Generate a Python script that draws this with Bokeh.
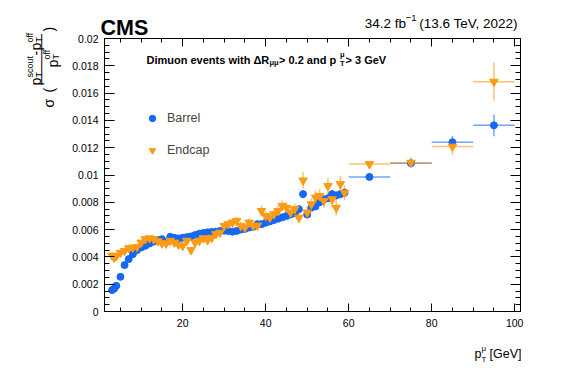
import math
from bokeh.plotting import figure
from bokeh.models import (ColumnDataSource, Range1d, LinearAxis, FixedTicker, Label,
                          Legend, LegendItem, CustomJSTickFormatter)
from bokeh.embed import file_html
from bokeh.resources import INLINE

# ---------------- data ----------------
pt_center = [3.0, 3.5, 4.0, 5, 6, 7, 8, 9, 10, 11, 12, 13, 14, 15, 16, 17, 18, 19, 20,
             21, 22, 23, 24, 25, 26, 27, 28, 29, 30, 31, 32, 33, 34, 35, 36, 37, 38, 39, 40,
             41, 42, 43, 44, 45, 46, 47, 48, 49, 50, 51, 52, 53, 54, 55, 56, 57, 58, 59,
             65, 75, 85, 95]
pt_halfwidth = [0.25, 0.25, 0.25] + [0.5] * 55 + [5, 5, 5, 5]

barrel_sigma = [0.00157, 0.00168, 0.00188, 0.00254, 0.00340, 0.00384, 0.00420, 0.00450,
                0.00469, 0.00481, 0.00498, 0.00512, 0.00523, 0.00530, 0.00510, 0.00547,
                0.00540, 0.00535, 0.00540, 0.00545, 0.00550, 0.00560, 0.00570, 0.00575,
                0.00580, 0.00583, 0.00585, 0.00590, 0.00592, 0.00590, 0.00585, 0.00590,
                0.00600, 0.00605, 0.00615, 0.00620, 0.00640, 0.00640, 0.00650, 0.00660,
                0.00670, 0.00680, 0.00690, 0.00700, 0.00710, 0.00720, 0.00750, 0.00860,
                0.00710, 0.00760, 0.00770, 0.00800, 0.00820, 0.00830, 0.00860, 0.00850,
                0.00860, 0.00870,
                0.00986, 0.01086, 0.01240, 0.01364]
barrel_err = [0.00010, 0.00010, 0.00010, 0.00010, 0.00010, 0.00010, 0.00010, 0.00010,
              0.00010, 0.00010, 0.00010, 0.00010, 0.00010, 0.00010, 0.00010, 0.00010,
              0.00010, 0.00010, 0.00010, 0.00010, 0.00010, 0.00010, 0.00010, 0.00010,
              0.00010, 0.00010, 0.00010, 0.00010, 0.00010, 0.00010, 0.00010, 0.00010,
              0.00010, 0.00010, 0.00010, 0.00010, 0.00012, 0.00012, 0.00012, 0.00012,
              0.00012, 0.00012, 0.00015, 0.00015, 0.00015, 0.00015, 0.00020, 0.00030,
              0.00020, 0.00020, 0.00020, 0.00020, 0.00025, 0.00025, 0.00030, 0.00030,
              0.00030, 0.00030,
              0.00010, 0.00020, 0.00045, 0.00080]

endcap_sigma = [0.00410, 0.00395, 0.00405, 0.00430, 0.00444, 0.00464, 0.00469, 0.00474,
                0.00505, 0.00530, 0.00537, 0.00530, 0.00515, 0.00500, 0.00498, 0.00518,
                0.00505, 0.00490, 0.00481, 0.00518, 0.00450, 0.00505, 0.00518, 0.00537,
                0.00523, 0.00540, 0.00567, 0.00578, 0.00627, 0.00640, 0.00652, 0.00664,
                0.00627, 0.00615, 0.00652, 0.00627, 0.00630, 0.00737, 0.00700, 0.00688,
                0.00713, 0.00737, 0.00774, 0.00760, 0.00725, 0.00750, 0.00688, 0.00960,
                0.00725, 0.00786, 0.00835, 0.00847, 0.00810, 0.00920, 0.00823, 0.00760,
                0.00933, 0.00870,
                0.01080, 0.01090, 0.01208, 0.01684]
endcap_err = [0.00020, 0.00020, 0.00020, 0.00020, 0.00020, 0.00020, 0.00020, 0.00020,
              0.00020, 0.00020, 0.00020, 0.00020, 0.00020, 0.00020, 0.00020, 0.00020,
              0.00020, 0.00020, 0.00025, 0.00025, 0.00025, 0.00025, 0.00025, 0.00025,
              0.00025, 0.00025, 0.00030, 0.00030, 0.00030, 0.00030, 0.00030, 0.00030,
              0.00030, 0.00030, 0.00030, 0.00030, 0.00030, 0.00040, 0.00035, 0.00035,
              0.00035, 0.00040, 0.00040, 0.00040, 0.00040, 0.00040, 0.00040, 0.00060,
              0.00045, 0.00045, 0.00050, 0.00050, 0.00050, 0.00060, 0.00050, 0.00055,
              0.00060, 0.00055,
              0.00020, 0.00040, 0.00060, 0.00140]

x_major_ticks = [20, 40, 60, 80, 100]
x_minor_ticks = [5, 10, 15, 20, 25, 30, 35, 40, 45, 50, 55, 60, 65, 70, 75, 80, 85, 90, 95, 100]
y_major_ticks = [0.0, 0.002, 0.004, 0.006, 0.008, 0.01, 0.012, 0.014, 0.016, 0.018, 0.02]
y_tick_labels = ["0", "0.002", "0.004", "0.006", "0.008", "0.01", "0.012", "0.014",
                 "0.016", "0.018", "0.02"]
y_minor_ticks = [i * 0.0005 for i in range(41)]

BLUE = "#1668f2"
ORANGE = "#fb9b16"
FONT = "Liberation Sans"

# ---------------- geometry ----------------
W, H = 573, 367
X0, X1 = 1.16, 101.4          # visible x range of the plot box
Y0, Y1 = 0.0, 0.02            # visible y range of the plot box
VL, VR, VT, VB = 104, 520, 38, 311   # plot box on the canvas (px)
kx = (X1 - X0) / (VR - VL)
ky = (Y1 - Y0) / (VB - VT)


def fx(px):
    return X0 + (px - VL) * kx


def fy(py):
    return Y0 + (VB - py) * ky


p = figure(width=W, height=H,
           x_range=Range1d(fx(0), fx(W)), y_range=Range1d(fy(H), fy(0)),
           output_backend="svg", toolbar_location=None,
           min_border=0, min_border_left=0, min_border_right=0,
           min_border_top=0, min_border_bottom=0)
p.grid.visible = False
p.outline_line_color = None
p.background_fill_color = "white"
p.border_fill_color = "white"


def style_axis(ax, ticks, minor, major_len, minor_len, show_labels, loc, bounds):
    ax.ticker = FixedTicker(ticks=ticks, minor_ticks=minor)
    ax.fixed_location = loc
    ax.bounds = bounds
    ax.axis_line_color = "black"
    ax.major_tick_line_color = "black"
    ax.minor_tick_line_color = "black"
    ax.major_tick_in = major_len
    ax.major_tick_out = 0
    ax.minor_tick_in = minor_len
    ax.minor_tick_out = 0
    ax.major_label_text_font = FONT
    ax.major_label_text_font_size = "10.5px"
    ax.major_label_text_color = "black"
    if not show_labels:
        ax.formatter = CustomJSTickFormatter(code="return ''")


style_axis(p.xaxis[0], x_major_ticks, x_minor_ticks, 8, 4, True, Y0, (X0, X1))
p.xaxis[0].major_label_standoff = 7
style_axis(p.yaxis[0], y_major_ticks, y_minor_ticks, 10, 5, True, X0, (Y0, Y1))
p.yaxis[0].major_label_overrides = {t: l for t, l in zip(y_major_ticks, y_tick_labels)}
p.yaxis[0].major_label_standoff = 6

top_ax = LinearAxis()
style_axis(top_ax, x_major_ticks, x_minor_ticks, 8, 4, False, Y1, (X0, X1))
p.add_layout(top_ax, "above")
right_ax = LinearAxis()
style_axis(right_ax, y_major_ticks, y_minor_ticks, 10, 5, False, X1, (Y0, Y1))
p.add_layout(right_ax, "right")


def make_source(x, xe, y, ye):
    return ColumnDataSource(dict(
        x=x, y=y,
        xlo=[a - b for a, b in zip(x, xe)], xhi=[a + b for a, b in zip(x, xe)],
        ylo=[a - b for a, b in zip(y, ye)], yhi=[a + b for a, b in zip(y, ye)]))


src_b = make_source(pt_center, pt_halfwidth, barrel_sigma, barrel_err)
src_e = make_source(pt_center, pt_halfwidth, endcap_sigma, endcap_err)

for src, col in ((src_b, BLUE), (src_e, ORANGE)):
    p.segment(x0="xlo", y0="y", x1="xhi", y1="y", source=src, line_color=col,
              line_alpha=0.6, line_width=1.5)
    p.segment(x0="x", y0="ylo", x1="x", y1="yhi", source=src, line_color=col,
              line_alpha=0.6, line_width=1.5)

r_b = p.scatter("x", "y", source=src_b, marker="circle", size=7,
                fill_color=BLUE, line_color=BLUE)
r_e = p.scatter("x", "y", source=src_e, marker="inverted_triangle", size=8.5,
                fill_color=ORANGE, line_color=ORANGE)

# legend box: glyph column left edge at x=144, bottom of box at y=158 (canvas px)
legend = Legend(items=[LegendItem(label="Barrel", renderers=[r_b]),
                       LegendItem(label="Endcap", renderers=[r_e])],
                location=(144, H - 158), glyph_width=16, glyph_height=16, spacing=16,
                label_standoff=7, padding=0, margin=0, border_line_alpha=0,
                background_fill_alpha=0, label_text_font=FONT,
                label_text_font_size="12.5px", label_height=16)
p.add_layout(legend)


def txt(px, py, s, size, bold=False, align="left", baseline="alphabetic", angle=0.0,
        font=FONT):
    p.add_layout(Label(x=fx(px), y=fy(py), x_units="data", y_units="data", text=s,
                       text_font=font, text_font_size=f"{size}px",
                       text_font_style="bold" if bold else "normal",
                       text_align=align, text_baseline=baseline, angle=angle,
                       text_color="black"))


# title
txt(100, 27, "CMS", 21.5, bold=True)
txt(521, 23, " (13.6 TeV, 2022)", 13.5, align="right")
txt(416, 17, "\u22121", 9.5, align="right")
txt(405.5, 23, "34.2 fb", 13.5, align="right")

# annotation
txt(146, 59, "Dimuon events with \u0394R", 11, bold=True)
txt(269, 62, "\u03bc\u03bc", 7.5, bold=True)
txt(278.5, 59, " > 0.2 and p", 11, bold=True)
txt(339.5, 63, "T", 7.5, bold=True)
txt(339.5, 54, "\u03bc", 7.5, bold=True)
txt(345, 59, " > 3 GeV", 11, bold=True)

# x label
txt(474, 353, "p", 12.5)
txt(481, 348, "\u03bc", 8)
txt(481, 359, "T", 8)
txt(521, 353, "[GeV]", 12.5, align="right")

# y label (rotated)
A = math.pi / 2
txt(48, 107, "\u03c3", 14, angle=A)
txt(48, 92, "(", 14, angle=A)
txt(48, 31, ")", 14, angle=A)
txt(35, 85, "p", 14, angle=A)
txt(38, 77, "T", 9, angle=A)
txt(29, 77, "scout", 9, angle=A)
txt(35, 55, "-", 14, angle=A)
txt(35, 50, "p", 14, angle=A)
txt(38, 42, "T", 9, angle=A)
txt(29, 42, "off", 9, angle=A)
txt(41, 84, "\u2500" * 7, 12, angle=A, baseline="middle", font="DejaVu Sans")
txt(52, 67, "p", 14, angle=A)
txt(55, 59, "T", 9, angle=A)
txt(46, 59, "off", 9, angle=A)

open("out.html", "w").write(file_html(p, INLINE))
